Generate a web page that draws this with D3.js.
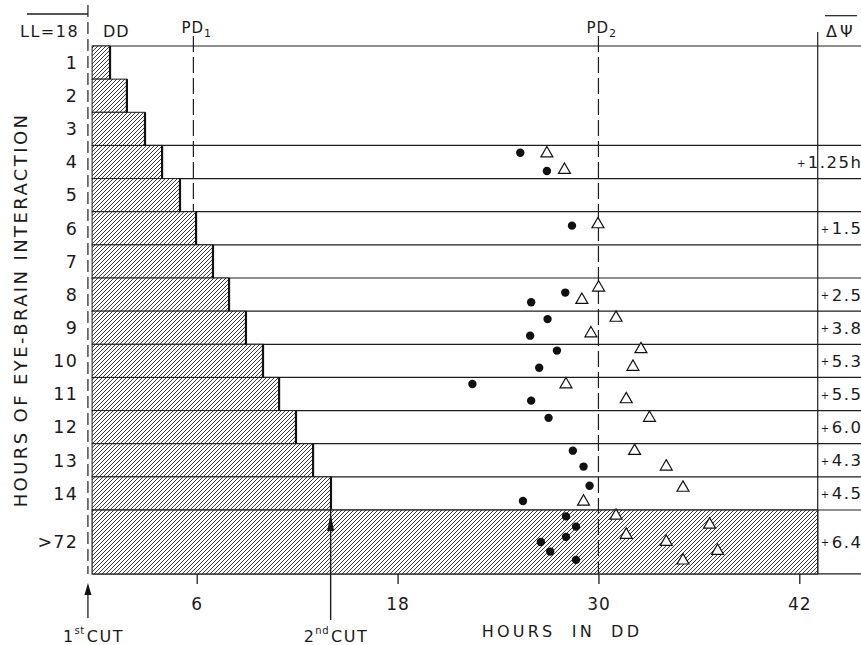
<!DOCTYPE html>
<html><head><meta charset="utf-8">
<script src="https://cdn.jsdelivr.net/npm/d3@7/dist/d3.min.js"></script>
<style>
html,body{margin:0;padding:0;background:#fff;}
svg{display:block;}
text{font-family:"DejaVu Sans",sans-serif;fill:#1a1a1a;}
</style></head><body>
<svg id="chart" width="861" height="645"></svg>
<script>
// ---- data ----
const rowLabels = ["1","2","3","4","5","6","7","8","9","10","11","12","13","14",">72"];
const rowSpans  = [1,1,1,1,1,1,1,1,1,1,1,1,1,1,1.93];
const barHours  = [0.82,1.83,2.91,3.93,5.0,5.96,6.97,7.93,8.94,9.96,10.92,11.93,12.95,14.02];
const longRowEnd = 43.1;            // >72 row: DD continues to end of record
const xTicks = [6,18,30,42];
const pd1 = 5.8, pd2 = 30, cut1 = -0.5, cut2 = 14;

const filledRows  = ["4","4","6","8","8","9","9","10","10","11","11","12","13","13","14","14",">72",">72",">72",">72",">72",">72"];
const filledHours = [25.33,26.92,28.42,28.02,25.98,26.96,25.92,27.52,26.46,22.47,25.98,27.02,28.47,29.11,29.47,25.49,28.06,28.66,28.06,26.56,27.12,28.66];
const filledSlots = [0.22,0.77,0.42,0.44,0.73,0.24,0.74,0.19,0.71,0.20,0.70,0.22,0.21,0.69,0.27,0.73,0.10,0.26,0.42,0.50,0.65,0.78];

const openRows  = ["4","4","6","8","8","9","9","10","10","11","11","12","13","13","14","14",">72",">72",">72",">72",">72",">72"];
const openHours = [26.92,27.97,29.97,30.01,29.01,31.05,29.55,32.54,32.06,28.06,31.66,33.05,32.16,34.05,35.05,29.11,31.05,31.66,34.05,36.64,37.12,35.05];
const openSlots = [0.24,0.74,0.38,0.29,0.66,0.20,0.67,0.15,0.68,0.21,0.66,0.22,0.22,0.69,0.33,0.75,0.09,0.39,0.50,0.23,0.64,0.79];

const shiftRows   = ["4","6","8","9","10","11","12","13","14",">72"];
const shiftLabels = ["1.25h","1.5","2.5","3.8","5.3","5.5","6.0","4.3","4.5","6.4"];

// ---- scales ----
const W = 861, H = 645;
const x = d3.scaleLinear().domain([0,42]).range([96.3,799.3]);
const y = d3.scaleLinear().domain([0,14]).range([46,510]);
const rowStart = {}, rowSpan = {};
let acc = 0;
rowLabels.forEach((r,i)=>{ rowStart[r]=acc; rowSpan[r]=rowSpans[i]; acc+=rowSpans[i]; });
const total = acc;
const yTop = r => y(rowStart[r]);
const yBot = r => y(rowStart[r]+rowSpan[r]);
const yAt = (r,f) => y(rowStart[r] + f*rowSpan[r]);
const xLeft = x(-0.25), xRight = x(longRowEnd), yBottom = y(total);
const ink = "#1e1e1e";

const svg = d3.select("#chart");
const defs = svg.append("defs");
const pat = defs.append("pattern").attr("id","hatch").attr("patternUnits","userSpaceOnUse")
  .attr("width",4).attr("height",4);
pat.append("rect").attr("width",4).attr("height",4).attr("fill","#fff");
pat.append("path").attr("d","M-1,1 l2,-2 M0,4 l4,-4 M3,5 l2,-2")
  .attr("stroke","#333").attr("stroke-width",0.95);

const g = svg.append("g");

// top-left corner line and left dashed line
g.append("line").attr("x1",27).attr("x2",x(cut1)).attr("y1",14).attr("y2",14)
  .attr("stroke",ink).attr("stroke-width",1.3);
g.append("line").attr("x1",x(cut1)).attr("x2",x(cut1)).attr("y1",5).attr("y2",yBottom)
  .attr("stroke",ink).attr("stroke-width",1.2).attr("stroke-dasharray","12,5");

// ruled row lines
const ruled = [0].concat(d3.range(3,15)).map(k=>y(k)).concat([yBottom]);
g.selectAll(".rule").data(ruled).enter().append("line")
  .attr("x1",xLeft).attr("x2",W).attr("y1",d=>d).attr("y2",d=>d)
  .attr("stroke",ink).attr("stroke-width",1.2);

// PD1 dashed line (under bars)
g.append("line").attr("x1",x(pd1)).attr("x2",x(pd1)).attr("y1",36).attr("y2",yBottom)
  .attr("stroke",ink).attr("stroke-width",1.2).attr("stroke-dasharray","16,5");

// right column line
g.append("line").attr("x1",xRight).attr("x2",xRight).attr("y1",32).attr("y2",yBottom)
  .attr("stroke",ink).attr("stroke-width",1.2);

// bars
const bars = rowLabels.slice(0,14).map((r,i)=>({r, h:barHours[i]}));
g.selectAll(".bar").data(bars).enter().append("rect")
  .attr("x",xLeft).attr("y",d=>yTop(d.r)).attr("width",d=>x(d.h)-xLeft)
  .attr("height",d=>yBot(d.r)-yTop(d.r))
  .attr("fill","url(#hatch)").attr("stroke",ink).attr("stroke-width",1);
g.selectAll(".barEdge").data(bars).enter().append("line")
  .attr("x1",d=>x(d.h)).attr("x2",d=>x(d.h)).attr("y1",d=>yTop(d.r)).attr("y2",d=>yBot(d.r))
  .attr("stroke","#111").attr("stroke-width",2.2);

// >72 row
g.append("rect").attr("x",xLeft).attr("y",yTop(">72")).attr("width",xRight-xLeft)
  .attr("height",yBot(">72")-yTop(">72")).attr("fill","url(#hatch)")
  .attr("stroke",ink).attr("stroke-width",1.2);

// PD2 dashed line (over)
g.append("line").attr("x1",x(pd2)).attr("x2",x(pd2)).attr("y1",36).attr("y2",yBottom)
  .attr("stroke",ink).attr("stroke-width",1.2).attr("stroke-dasharray","16,5");

// x axis ticks
const xAxis = d3.axisBottom(x).tickValues(xTicks).tickSize(10).tickPadding(14).tickFormat(d3.format("d"));
const ax = svg.append("g").attr("transform",`translate(0,${yBottom})`).call(xAxis);
ax.select(".domain").remove();
ax.selectAll("line").attr("stroke",ink).attr("stroke-width",1.3);
ax.selectAll("text").attr("font-family","DejaVu Sans").attr("font-size",17).attr("letter-spacing",1).attr("fill","#1a1a1a");

// cut arrows
function upArrow(xp, tipY, baseY, len){
  g.append("line").attr("x1",xp).attr("x2",xp).attr("y1",tipY+4).attr("y2",baseY)
    .attr("stroke",ink).attr("stroke-width",1.3);
  g.append("path").attr("d",`M${xp},${tipY} L${xp-3.5},${tipY+len} L${xp+3.5},${tipY+len} Z`).attr("fill","#111");
}
upArrow(x(cut1), 583, 618, 12);
g.append("line").attr("x1",x(cut2)).attr("x2",x(cut2)).attr("y1",yTop(">72")).attr("y2",620)
  .attr("stroke",ink).attr("stroke-width",1.4);
g.append("path").attr("d",`M${x(cut2)},${yTop(">72")+4} L${x(cut2)-3.5},${yTop(">72")+21} L${x(cut2)+3.5},${yTop(">72")+21} Z`).attr("fill","#111");

// points
const filled = filledRows.map((r,i)=>({r, h:filledHours[i], f:filledSlots[i]}));
const open = openRows.map((r,i)=>({r, h:openHours[i], f:openSlots[i]}));
g.selectAll(".dot").data(filled).enter().append("circle")
  .attr("cx",d=>x(d.h)).attr("cy",d=>yAt(d.r,d.f)).attr("r",4.2).attr("fill","#111");
const tri = d3.symbol(d3.symbolTriangle, 62);
g.selectAll(".tri").data(open).enter().append("path")
  .attr("d",tri).attr("transform",d=>`translate(${x(d.h)},${yAt(d.r,d.f)})`)
  .attr("fill","#fff").attr("stroke","#111").attr("stroke-width",1.2);

// y labels
g.selectAll(".ylab").data(rowLabels).enter().append("text")
  .attr("x",78).attr("y",r=>(yTop(r)+yBot(r))/2).attr("dy","0.36em")
  .attr("text-anchor","end").attr("font-size",17.5).attr("letter-spacing",1.2).text(r=>r);

// y title
g.append("text").attr("transform","translate(27,310) rotate(-90)")
  .attr("text-anchor","middle").attr("font-size",18).attr("letter-spacing",2.4)
  .text("HOURS OF EYE-BRAIN INTERACTION");

// header
g.append("text").attr("x",20).attr("y",37).attr("font-size",16).attr("letter-spacing",1.5).text("LL=18");
g.append("text").attr("x",103).attr("y",37).attr("font-size",16).attr("letter-spacing",1).text("DD");
[[pd1,"1"],[pd2,"2"]].forEach(([v,s])=>{
  const t = g.append("text").attr("x",x(v)-12).attr("y",33).attr("font-size",15).attr("letter-spacing",1);
  t.append("tspan").text("PD");
  t.append("tspan").attr("font-size",11).attr("dy",4).text(s);
});
g.append("text").attr("x",826).attr("y",37).attr("font-size",16).attr("letter-spacing",3).text("ΔΨ");
g.append("line").attr("x1",825).attr("x2",857).attr("y1",15.7).attr("y2",15.7).attr("stroke",ink).attr("stroke-width",1.2);

// shift labels
shiftRows.forEach((r,i)=>{
  const t = g.append("text").attr("x",W+1.5).attr("y",(yTop(r)+yBot(r))/2+6)
    .attr("text-anchor","end").attr("font-size",16.5).attr("letter-spacing",1.5);
  t.append("tspan").attr("font-size",10).attr("dy",-1.5).text("+");
  t.append("tspan").attr("dy",1.5).attr("dx",1).text(shiftLabels[i]);
});

// bottom labels
function cutLabel(x0, num, sup){
  const t = g.append("text").attr("x",x0).attr("y",642).attr("font-size",16).attr("letter-spacing",1.5);
  t.append("tspan").text(num);
  t.append("tspan").attr("font-size",10).attr("dy",-8).attr("letter-spacing",0.5).text(sup);
  t.append("tspan").attr("dy",8).attr("dx",2).text("CUT");
}
cutLabel(x(cut1)-25, "1", "st");
cutLabel(x(cut2)-27, "2", "nd");
g.append("text").attr("x",562).attr("y",637).attr("text-anchor","middle").attr("font-size",16)
  .attr("letter-spacing",3.2).attr("word-spacing",8).text("HOURS IN DD");
</script>
</body></html>
